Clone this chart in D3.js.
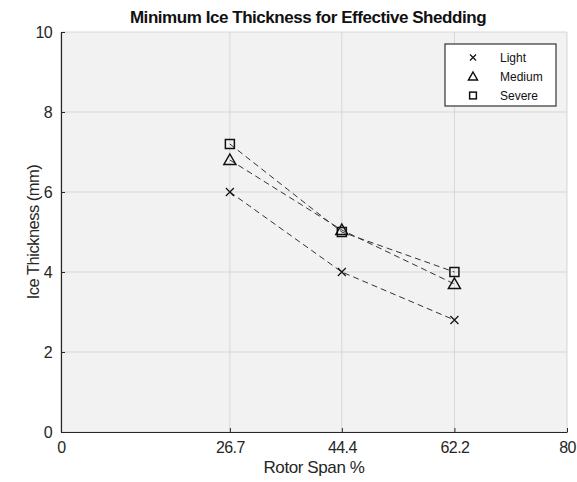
<!DOCTYPE html>
<html><head><meta charset="utf-8">
<script src="https://cdn.jsdelivr.net/npm/d3@7"></script>
<style>body{margin:0;background:#fff;} svg{display:block;} text{font-family:"Liberation Sans",Arial,sans-serif;}</style>
</head><body><svg id="c" width="577" height="482"></svg>
<script>
const spans = [26.7, 44.4, 62.2];
const light = [6.0, 4.0, 2.8];
const medium = [6.8, 5.05, 3.7];
const severe = [7.2, 5.0, 4.0];
const seriesNames = ["Light", "Medium", "Severe"];
const xTicks = [0, 26.7, 44.4, 62.2, 80];
const xTickLabels = ["0", "26.7", "44.4", "62.2", "80"];
const yTicks = [0, 2, 4, 6, 8, 10];

const svg = d3.select("#c");
const L = 61, R = 567, T = 32, B = 432;
const x = d3.scaleLinear().domain([0, 80]).range([L, R]);
const y = d3.scaleLinear().domain([0, 10]).range([B, T]);

svg.append("rect").attr("x", L).attr("y", T).attr("width", R - L).attr("height", B - T).attr("fill", "#f2f2f2");

// grid
svg.append("g").selectAll("line").data(xTicks).join("line")
  .attr("x1", d => x(d)).attr("x2", d => x(d)).attr("y1", T).attr("y2", B)
  .attr("stroke", "#d6d6d6").attr("stroke-width", 1);
svg.append("g").selectAll("line").data(yTicks).join("line")
  .attr("y1", d => y(d)).attr("y2", d => y(d)).attr("x1", L).attr("x2", R)
  .attr("stroke", "#d6d6d6").attr("stroke-width", 1);

// axes
const xAxis = d3.axisBottom(x).tickValues(xTicks).tickFormat((d, i) => xTickLabels[i]).tickSizeInner(-4).tickSizeOuter(0).tickPadding(10);
const gx = svg.append("g").attr("transform", `translate(0,${B})`).call(xAxis);
gx.select(".domain").attr("stroke", "#262626").attr("stroke-width", 1.2);
gx.selectAll(".tick line").attr("stroke", "#262626");
gx.selectAll("text").attr("font-size", 16).attr("fill", "#262626").attr("letter-spacing", "-0.6");

const yAxis = d3.axisLeft(y).tickValues(yTicks).tickSizeInner(-4).tickSizeOuter(0).tickPadding(9);
const gy = svg.append("g").attr("transform", `translate(${L},0)`).call(yAxis);
gy.select(".domain").attr("stroke", "#262626").attr("stroke-width", 1.2);
gy.selectAll(".tick line").attr("stroke", "#262626");
gy.selectAll("text").attr("font-size", 16).attr("fill", "#262626").attr("letter-spacing", "-0.6");

// titles
svg.append("text").attr("x", 308).attr("y", 23).attr("text-anchor", "middle")
  .attr("font-size", 17).attr("font-weight", "bold").attr("fill", "#111").attr("letter-spacing", "-0.45")
  .text("Minimum Ice Thickness for Effective Shedding");
svg.append("text").attr("x", 314).attr("y", 473).attr("text-anchor", "middle")
  .attr("font-size", 17).attr("fill", "#262626").attr("letter-spacing", "-0.4").text("Rotor Span %");
svg.append("text").attr("transform", `translate(39,${(T + B) / 2}) rotate(-90)`).attr("text-anchor", "middle")
  .attr("font-size", 16.5).attr("fill", "#262626").attr("letter-spacing", "-0.5").text("Ice Thickness (mm)");

const data = [light, medium, severe];
const line = d3.line().x((d, i) => x(spans[i])).y(d => y(d));
data.forEach(s => {
  svg.append("path").datum(s).attr("d", line).attr("fill", "none")
    .attr("stroke", "#333").attr("stroke-width", 1).attr("stroke-dasharray", "6,4");
});

function marker(g, type, cx, cy, sc) {
  if (type === 0) {
    const r = 4 * sc;
    g.append("path").attr("d", `M${cx - r},${cy - r}L${cx + r},${cy + r}M${cx - r},${cy + r}L${cx + r},${cy - r}`)
      .attr("stroke", "#111").attr("stroke-width", 1.2).attr("fill", "none");
  } else if (type === 1) {
    const r = 6 * sc;
    g.append("path").attr("d", `M${cx},${cy - r}L${cx + r},${cy + r * 0.75}L${cx - r},${cy + r * 0.75}Z`)
      .attr("stroke", "#111").attr("stroke-width", 1.5).attr("fill", "none");
  } else {
    const r = 4.5 * sc;
    g.append("rect").attr("x", cx - r).attr("y", cy - r).attr("width", 2 * r).attr("height", 2 * r)
      .attr("stroke", "#111").attr("stroke-width", 1.5).attr("fill", "none");
  }
}
const mg = svg.append("g");
data.forEach((s, k) => s.forEach((v, i) => marker(mg, k, x(spans[i]), y(v), 1)));

// legend
const lg = svg.append("g");
lg.append("rect").attr("x", 445).attr("y", 44).attr("width", 111).attr("height", 62)
  .attr("fill", "#fff").attr("stroke", "#333").attr("stroke-width", 1.2);
seriesNames.forEach((n, k) => {
  const yy = 57.5 + k * 19;
  marker(lg, k, 473, yy, 0.75);
  lg.append("text").attr("x", 500).attr("y", yy + 4.5).attr("font-size", 12).attr("fill", "#111").text(n);
});
</script></body></html>
